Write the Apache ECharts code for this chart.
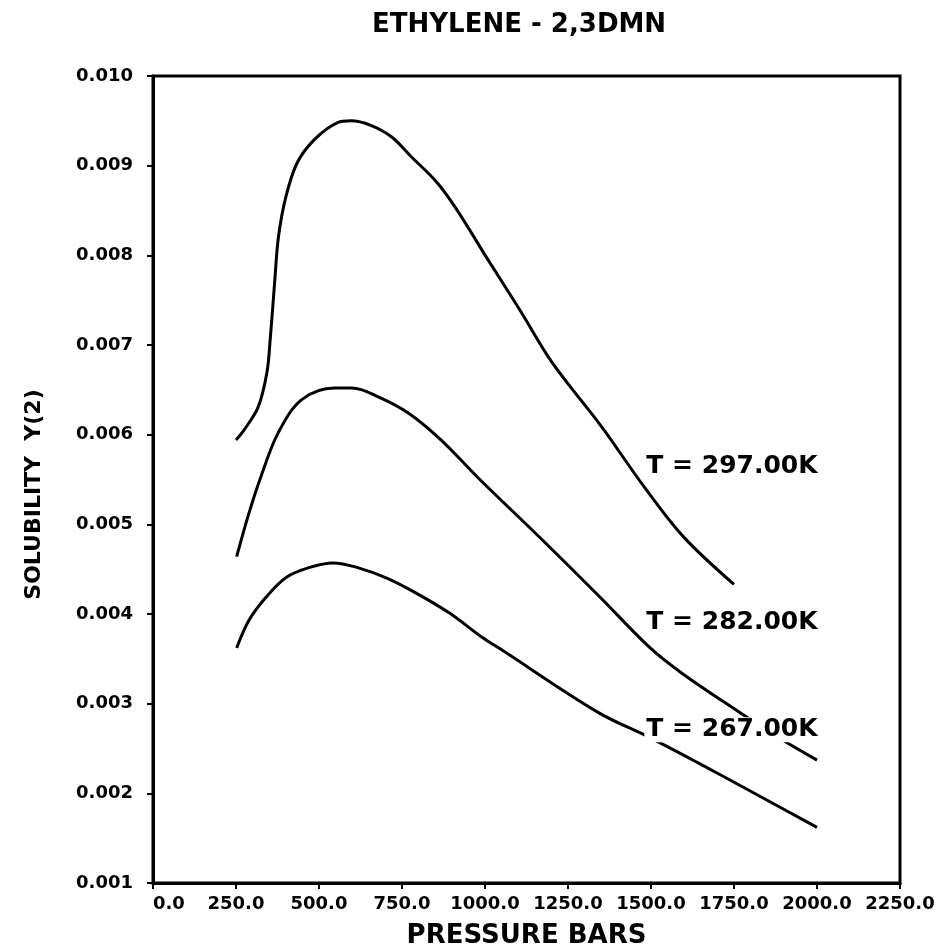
<!DOCTYPE html>
<html>
<head>
<meta charset="utf-8">
<script src="https://cdn.jsdelivr.net/npm/echarts@6/dist/echarts.min.js"></script>
<style>
  html, body { margin: 0; padding: 0; background: #fff; }
  #chart { width: 946px; height: 947px; }
</style>
</head>
<body>
<div id="chart"></div>
<script>
// Solubility of 2,3-DMN in ethylene vs pressure, three isotherms
const pressure297 = [250, 274, 317, 343, 353, 367, 378, 400, 434, 486, 556, 596, 656, 719, 778, 856, 915, 1004, 1105, 1203, 1351, 1479, 1598, 1750];
const solub297    = [0.00594, 0.00605, 0.00631, 0.00669, 0.00706, 0.00773, 0.00821, 0.00865, 0.00903, 0.00929, 0.00948, 0.00950, 0.00945, 0.00932, 0.00910, 0.00881, 0.00851, 0.00798, 0.00739, 0.00680, 0.00609, 0.00542, 0.00486, 0.00433];

const pressure282 = [252, 287, 324, 377, 448, 547, 599, 680, 770, 868, 979, 1166, 1346, 1495, 1593, 1764, 1880, 2000];
const solub282    = [0.00464, 0.00510, 0.00552, 0.00602, 0.00639, 0.00652, 0.00652, 0.00642, 0.00624, 0.00594, 0.00552, 0.00485, 0.00419, 0.00363, 0.00334, 0.00291, 0.00263, 0.00237];

const pressure267 = [252, 289, 341, 402, 472, 542, 614, 704, 794, 893, 991, 1042, 1342, 1492, 1642, 1792, 2000];
const solub267    = [0.00362, 0.00393, 0.00419, 0.00441, 0.00452, 0.00457, 0.00452, 0.00440, 0.00423, 0.00401, 0.00374, 0.00362, 0.00290, 0.00263, 0.00234, 0.00204, 0.00162];

// Isotherm captions, anchored in data units
const captionText = ['T = 297.00K', 'T = 282.00K', 'T = 267.00K'];
const captionX    = [1480, 1480, 1480];
const captionY    = [0.00564, 0.00391, 0.00271];

const FONT = '"DejaVu Sans", "Liberation Sans", sans-serif';

function pairs(xs, ys) { return xs.map((x, i) => [x, ys[i]]); }

function curve(name, xs, ys) {
  return {
    name: name,
    type: 'line',
    data: pairs(xs, ys),
    smooth: 0.35,
    showSymbol: false,
    symbol: 'none',
    lineStyle: { color: '#000', width: 3 },
    z: 2
  };
}

const chart = echarts.init(document.getElementById('chart'), null, { renderer: 'canvas' });

chart.setOption({
  backgroundColor: '#fff',
  animation: false,
  title: {
    text: 'ETHYLENE - 2,3DMN',
    left: 367,
    top: 7,
    textStyle: { fontFamily: FONT, fontWeight: 'bold', fontSize: 26, color: '#000' }
  },
  grid: {
    left: 153, right: 46, top: 76, bottom: 64,
    outerBoundsMode: 'none',
    containLabel: false,
    show: true,
    borderColor: '#000',
    borderWidth: 3,
    backgroundColor: 'transparent'
  },
  xAxis: {
    type: 'value',
    min: 0, max: 2250, interval: 250,
    name: 'PRESSURE BARS',
    nameLocation: 'middle',
    nameGap: 40,
    nameTextStyle: { fontFamily: FONT, fontWeight: 'bold', fontSize: 26, color: '#000' },
    axisLine: { show: true, lineStyle: { color: '#000', width: 3 } },
    axisTick: { show: true, inside: false, length: 6, lineStyle: { color: '#000', width: 2 } },
    splitLine: { show: false },
    axisLabel: {
      margin: 12,
      fontFamily: FONT, fontWeight: 'bold', fontSize: 18, color: '#000',
      alignMinLabel: 'left',
      formatter: v => v.toFixed(1)
    }
  },
  yAxis: {
    type: 'value',
    min: 0.001, max: 0.010, interval: 0.001,
    name: 'SOLUBILITY  Y(2)',
    nameLocation: 'middle',
    nameRotate: 90,
    nameGap: 108,
    nameTextStyle: { fontFamily: FONT, fontWeight: 'bold', fontSize: 22, color: '#000', padding: [0, 30, 0, 0] },
    axisLine: { show: true, lineStyle: { color: '#000', width: 3 } },
    axisTick: { show: true, inside: false, length: 6, lineStyle: { color: '#000', width: 2 } },
    splitLine: { show: false },
    axisLabel: {
      margin: 20,
      fontFamily: FONT, fontWeight: 'bold', fontSize: 18, color: '#000',
      formatter: v => v.toFixed(3)
    }
  },
  series: [
    curve('297K', pressure297, solub297),
    curve('282K', pressure282, solub282),
    curve('267K', pressure267, solub267),
    {
      name: 'captions',
      type: 'scatter',
      symbolSize: 0,
      z: 5,
      itemStyle: { opacity: 1 },
      emphasis: { disabled: true },
      data: captionText.map((t, i) => ({ value: [captionX[i], captionY[i]], name: t })),
      label: {
        show: true,
        position: 'right',
        distance: 0,
        formatter: p => p.name,
        fontFamily: FONT, fontWeight: 'bold', fontSize: 25, color: '#000',
        opacity: 1,
        backgroundColor: '#fff',
        padding: [0, 2]
      }
    }
  ]
});
</script>
</body>
</html>
